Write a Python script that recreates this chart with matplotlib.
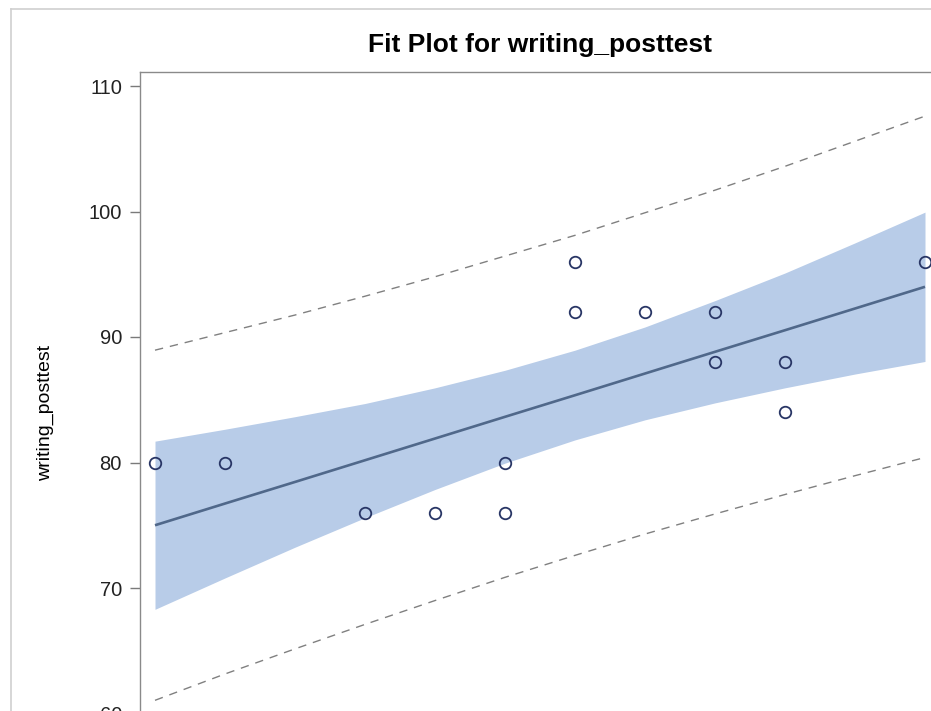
import matplotlib
matplotlib.use("Agg")
import matplotlib.pyplot as plt
from matplotlib.lines import Line2D

# ---- data ----
pretest = [70, 71, 73, 74, 75, 75, 76, 76, 77, 78, 78, 79, 79, 81]
posttest = [80, 80, 76, 76, 80, 76, 96, 92, 92, 92, 88, 88, 84, 96]

grid_x = [70, 71, 72, 73, 74, 75, 76, 77, 78, 79, 80, 81]
fit_y = [75.00, 76.73, 78.45, 80.18, 81.91, 83.64, 85.36, 87.09, 88.82, 90.54, 92.27, 94.00]
lower_cl = [68.3, 70.8, 73.25, 75.6, 77.85, 79.95, 81.8, 83.4, 84.75, 85.95, 87.05, 88.05]
upper_cl = [81.7, 82.65, 83.65, 84.7, 85.95, 87.35, 88.95, 90.8, 92.9, 95.1, 97.5, 99.95]
lower_pl = [61.05, 63.15, 65.15, 67.1, 69.0, 70.85, 72.6, 74.3, 75.9, 77.45, 78.95, 80.4]
upper_pl = [88.95, 90.35, 91.75, 93.25, 94.8, 96.45, 98.1, 99.9, 101.7, 103.6, 105.6, 107.6]

y_ticks = [60, 70, 80, 90, 100, 110]
title = "Fit Plot for writing_posttest"
y_label = "writing_posttest"

# ---- figure ----
W, H = 931, 711
fig = plt.figure(figsize=(W / 100, H / 100), dpi=100)
fig.patch.set_facecolor("white")

# outer light border (partially visible)
fig.add_artist(Line2D([11 / W, 11 / W], [0, 1 - 9 / H], color="#CFCFCF", lw=1.2,
                      transform=fig.transFigure))
fig.add_artist(Line2D([11 / W, 1], [1 - 9 / H, 1 - 9 / H], color="#CFCFCF", lw=1.2,
                      transform=fig.transFigure))

# axes extends beyond the right and bottom edges
ax_left_px, ax_top_px, ax_right_px, ax_bot_px = 140, 72, 980, 760
ax = fig.add_axes([ax_left_px / W, 1 - ax_bot_px / H,
                   (ax_right_px - ax_left_px) / W, (ax_bot_px - ax_top_px) / H])

px_per_x = 70.0
x0_px = 155
ax.set_xlim(70 - (x0_px - ax_left_px) / px_per_x, 70 + (ax_right_px - x0_px) / px_per_x)
px_per_y = 12.55
ax.set_ylim(110 - (ax_bot_px - 86) / px_per_y, 110 + (86 - ax_top_px) / px_per_y)

ax.fill_between(grid_x, lower_cl, upper_cl, color="#B8CCE8", lw=0, zorder=1)
ax.plot(grid_x, fit_y, color="#50688A", lw=1.9, zorder=3, solid_capstyle="butt")
ax.plot(grid_x, upper_pl, color="#808080", lw=1.0, dashes=(6, 5), zorder=2)
ax.plot(grid_x, lower_pl, color="#808080", lw=1.0, dashes=(6, 5), zorder=2)
ax.plot(pretest, posttest, linestyle="none", marker="o", markersize=8.3,
        markerfacecolor="none", markeredgecolor="#283565", markeredgewidth=1.3, zorder=4)

ax.set_yticks(y_ticks)
ax.set_yticklabels([str(v) for v in y_ticks])
ax.tick_params(axis="y", length=7, width=1, color="#7A7A7A", pad=6,
               labelsize=14.5, labelcolor="#222222")
ax.set_xticks([])
for side in ["left", "top"]:
    ax.spines[side].set_color("#8A8A8A")
    ax.spines[side].set_linewidth(1.0)
for side in ["right", "bottom"]:
    ax.spines[side].set_visible(False)

for lab in ax.get_yticklabels():
    lab.set_family(["Liberation Sans", "DejaVu Sans"])

fig.text(540 / W, 1 - 45 / H, title, ha="center", va="center", fontsize=19,
         fontweight="bold", family=["Liberation Sans", "DejaVu Sans"], color="#000000")
fig.text(45 / W, 1 - 413 / H, y_label, ha="center", va="center", rotation=90,
         fontsize=14, family=["Liberation Sans", "DejaVu Sans"], color="#000000")

fig.savefig("out.png", dpi=100, facecolor="white")
